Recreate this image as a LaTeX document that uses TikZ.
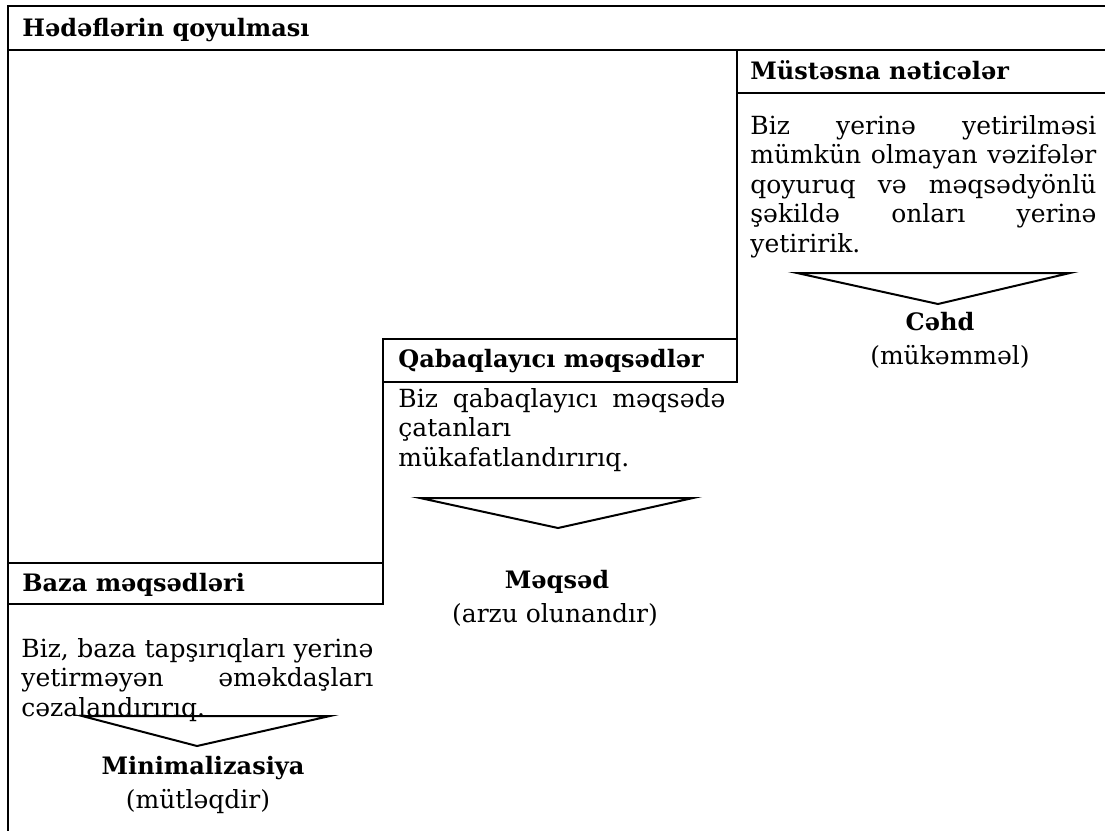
\documentclass[tikz,border=0pt]{standalone}
\usepackage{fontspec}
\setmainfont{DejaVu Serif}
\newcommand{\stepfont}{\fontsize{12.5}{14.75}\selectfont}
\newcommand{\headfont}{\fontsize{12}{14.75}\selectfont\bfseries}
\tolerance=10000
\hyphenpenalty=10000
\tikzstyle{rule}=[line width=1.4pt, line cap=rect]
\tikzstyle{wedge}=[line width=1pt, line join=miter]
\tikzstyle{head}=[anchor=base west, inner sep=0pt, font=\headfont]
\tikzstyle{body}=[anchor=base west, inner sep=0pt, align=justify, font=\stepfont]
\tikzstyle{result}=[anchor=base, inner sep=0pt, font=\headfont]
\tikzstyle{note}=[anchor=base, inner sep=0pt, font=\stepfont]

\begin{document}
\begin{tikzpicture}[x=0.5pt, y=-0.5pt]
	\useasboundingbox (0,0) rectangle (1105,831);

	\coordinate (topl) at (8,6);
	\coordinate (topr) at (1105,6);
	\coordinate (botl) at (8,831);
	\coordinate (titl) at (8,50);
	\coordinate (titr) at (1105,50);
	\coordinate (exct) at (737,50);
	\coordinate (excl) at (737,93);
	\coordinate (excr) at (1105,93);
	\coordinate (advl) at (383,339);
	\coordinate (advr) at (737,382);
	\coordinate (advb) at (383,604);
	\coordinate (basl) at (8,563);
	\coordinate (basr) at (383,563);
	\coordinate (bbl) at (8,604);

	\draw[rule] (botl) -- (topl) -- (topr);
	\draw[rule] (titl) -- (titr);
	\draw[rule] (exct) -- (advr);
	\draw[rule] (excl) -- (excr);
	\draw[rule] (advl) rectangle (advr);
	\draw[rule] (advl) -- (advb);
	\draw[rule] (basl) -- (basr);
	\draw[rule] (bbl) -- (advb);

	\node[head] (goal) at (22,36) {Hədəflərin qoyulması};
	\node[head] (exc) at (750,79) {Müstəsna nəticələr};
	\node[head] (adv) at (398,367) {Qabaqlayıcı məqsədlər};
	\node[head] (bas) at (22,591) {Baza məqsədləri};

	\node[body, text width=173pt] (exctext) at (750,134) {Biz yerinə yetirilməsi\linebreak mümkün olmayan vəzifələr\linebreak qoyuruq və məqsədyönlü\linebreak şəkildə onları yerinə\linebreak yetiririk.};
	\node[body, text width=163.5pt] (advtext) at (398,407) {Biz qabaqlayıcı məqsədə\linebreak çatanları\linebreak mükafatlandırırıq.};
	\node[body, text width=176pt] (bastext) at (21,657) {Biz, baza tapşırıqları yerinə\linebreak yetirməyən əməkdaşları\linebreak cəzalandırırıq.};

	\draw[wedge] (797,273) -- (1070,273) -- (938,304) -- cycle;
	\draw[wedge] (420,498) -- (693,498) -- (558,528) -- cycle;
	\draw[wedge] (82,716) -- (330,716) -- (197,746) -- cycle;

	\node[result] (cehd) at (940,330) {Cəhd};
	\node[note] (cehdnote) at (950,364) {(mükəmməl)};
	\node[result] (meqsed) at (557,588) {Məqsəd};
	\node[note] (meqsednote) at (555,622) {(arzu olunandır)};
	\node[result] (mini) at (203,774) {Minimalizasiya};
	\node[note] (mininote) at (198,808) {(mütləqdir)};
\end{tikzpicture}
\end{document}
